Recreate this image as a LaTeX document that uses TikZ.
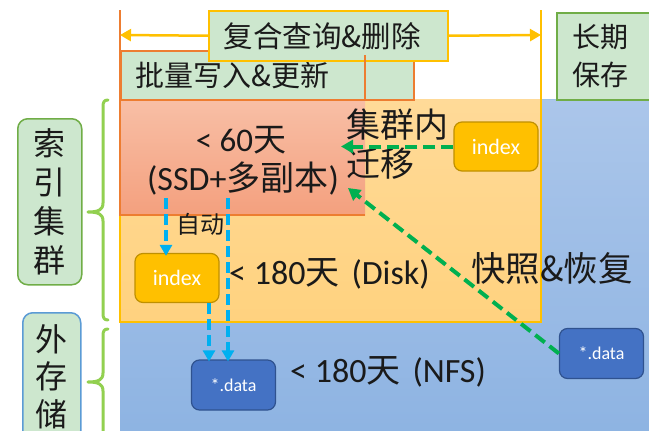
\documentclass[tikz,border=0pt]{standalone}
\usepackage{fontspec}
\setmainfont{Carlito}
\newfontfamily\cjk{Noto Sans CJK SC}
\usetikzlibrary{arrows.meta}
\newcommand\zh[1]{{\cjk #1}}
\definecolor{bluetop}{HTML}{ABC6EA}
\definecolor{bluebot}{HTML}{8DB3E2}
\definecolor{orgtop}{HTML}{FFDA98}
\definecolor{orgbot}{HTML}{FFD27F}
\definecolor{saltop}{HTML}{F8BFA6}
\definecolor{salbot}{HTML}{F4A07E}
\definecolor{lgreen}{HTML}{CDE7CE}
\definecolor{gborder}{HTML}{70AD47}
\definecolor{bborder}{HTML}{5B9BD5}
\definecolor{oline}{HTML}{ED7D31}
\definecolor{yline}{HTML}{FFC000}
\definecolor{brace}{HTML}{92D050}
\definecolor{gold}{HTML}{FFC000}
\definecolor{golddk}{HTML}{BF9000}
\definecolor{dblue}{HTML}{4472C4}
\definecolor{dbluedk}{HTML}{2F528F}
\definecolor{garrow}{HTML}{00B050}
\definecolor{barrow}{HTML}{00B0F0}
\definecolor{txt}{HTML}{1A1A1A}
\begin{document}
\begin{tikzpicture}[x=1pt,y=-1pt,
  greenbox/.style={fill=lgreen, line width=1.5pt, inner sep=0pt},
  idxbox/.style={fill=gold, draw=golddk, line width=1.2pt, rounded corners=8pt,
    minimum width=84pt, minimum height=49pt, text=white, font=\fontsize{22}{24}\selectfont},
  databox/.style={fill=dblue, draw=dbluedk, line width=1.2pt, rounded corners=8pt,
    minimum width=84pt, minimum height=50pt, text=white, font=\fontsize{18}{20}\selectfont},
  gdash/.style={draw=garrow, line width=4pt, dash pattern=on 12pt off 6pt,
    -{Triangle[length=12pt,width=13pt]}},
  bdash/.style={draw=barrow, line width=4pt, dash pattern=on 11pt off 5pt,
    -{Triangle[length=11pt,width=12pt]}},
  yarrow/.style={draw=yline, line width=2.5pt, -{Triangle[length=11pt,width=12pt]}},
  bigtxt/.style={text=txt, inner sep=0pt},
  bracestyle/.style={draw=brace, line width=3pt, line cap=round, line join=round}
]
\useasboundingbox (0,0) rectangle (649,431);
% regions
\fill[top color=bluetop, bottom color=bluebot] (120,99) rectangle (660,440);
\draw[draw=bborder!60, line width=1pt] (413,99) -- (660,99);
\fill[top color=orgtop, bottom color=orgbot] (120,99) rectangle (541,322);
\draw[draw=yline, line width=1.5pt] (541,99) -- (541,322) -- (120,322) -- (120,215);
\fill[top color=saltop, bottom color=salbot] (120,99) rectangle (365,215);
\draw[draw=oline, line width=1.5pt] (120,99) -- (120,215) -- (365,215);
% top lines
\draw[draw=oline, line width=2.5pt] (120,10) -- (120,99);
\draw[draw=yline, line width=2pt] (541,10) -- (541,99);
% top boxes
\node[greenbox, draw=oline, anchor=north west, minimum height=49pt, text width=263pt,
  inner xsep=15pt, align=left, font=\cjk\fontsize{29}{30}\selectfont, text=txt] (batch) at (120,50) {批量写入\&更新};
\node[greenbox, draw=yline, anchor=north west, minimum height=50pt, text width=209pt,
  inner xsep=15pt, align=left, font=\cjk\fontsize{29.5}{30}\selectfont, text=txt] (query) at (208,10) {复合查询\&删除};
\draw[draw=oline, line width=1.5pt] (365,55) -- (365,99);
\coordinate (yl) at (120,35);
\coordinate (yr) at (541,35);
\draw[yarrow] (query.west) -- (yl);
\draw[yarrow] (query.east) -- (yr);
\node[greenbox, draw=gborder, anchor=north west, minimum height=87pt, text width=90pt,
  inner xsep=16pt, align=left, font=\cjk\fontsize{28}{38}\selectfont, text=txt] (keep) at (556,12) {长期\\保存};
% left labels
\node[greenbox, draw=gborder, rounded corners=10pt, anchor=north west, minimum width=64pt,
  minimum height=166pt, align=center, font=\cjk\fontsize{32}{39}\selectfont, text=txt] (idxcl) at (17,118) {索\\引\\集\\群};
\node[greenbox, draw=bborder, rounded corners=10pt, anchor=north west, minimum width=58pt,
  minimum height=128pt, align=center, font=\cjk\fontsize{32}{37.5}\selectfont, text=txt] (ext) at (22,312) {外\\存\\储};
% braces
\draw[bracestyle] (108,100) .. controls (104,100) and (103,102) .. (103,107) -- (103,203)
  .. controls (103,210) and (98,212) .. (88,212) .. controls (98,212) and (103,214) .. (103,221)
  -- (103,313) .. controls (103,318) and (104,320) .. (108,320);
\draw[bracestyle] (108,329) .. controls (104,329) and (103,331) .. (103,336) -- (103,373)
  .. controls (103,380) and (98,382) .. (88,382) .. controls (98,382) and (103,384) .. (103,391)
  -- (103,440);
% texts
\node[bigtxt, font=\fontsize{33}{35}\selectfont] (t60) at (241,140) {< 60\zh{天}};
\node[bigtxt, font=\fontsize{34}{36}\selectfont] (tssd) at (243,179) {(SSD+\zh{多副本})};
\node[bigtxt, font=\cjk\fontsize{34}{39}\selectfont, anchor=west, align=left] (mig) at (346,144) {集群内\\迁移};
\node[bigtxt, font=\cjk\fontsize{24}{26}\selectfont] (auto) at (200,224) {自动};
\node[bigtxt, font=\fontsize{34}{36}\selectfont, anchor=west] (tdisk) at (229,274) {< 180\zh{天}\hspace{12pt}(Disk)};
\node[bigtxt, font=\fontsize{34}{36}\selectfont, anchor=west] (tnfs) at (290,372) {< 180\zh{天}\hspace{12pt}(NFS)};
\node[bigtxt, font=\cjk\fontsize{34.5}{36}\selectfont, anchor=west] (snap) at (471,268) {快照\&恢复};
% boxes
\node[idxbox] (idx1) at (496,146.5) {index};
\node[idxbox] (idx2) at (177,278) {index};
\node[databox] (data1) at (233.5,385) {*.data};
\node[databox] (data2) at (601.5,353.5) {*.data};
% arrows
\coordinate (g1) at (341,146.5);
\coordinate (g2) at (348,188);
\draw[gdash] (idx1.west) -- (g1);
\draw[gdash] (data2.west) -- (g2);
\coordinate (b1) at (166,198);
\coordinate (b2) at (228,198);
\coordinate (b3) at (209,303);
\draw[bdash] (b1) -- ([yshift=-3pt]idx2.north -| b1);
\draw[bdash] (b2) -- ([yshift=-2pt]data1.north -| b2);
\draw[bdash] (idx2.south -| b3) -- ([yshift=-2pt]data1.north -| b3);
\end{tikzpicture}
\end{document}
